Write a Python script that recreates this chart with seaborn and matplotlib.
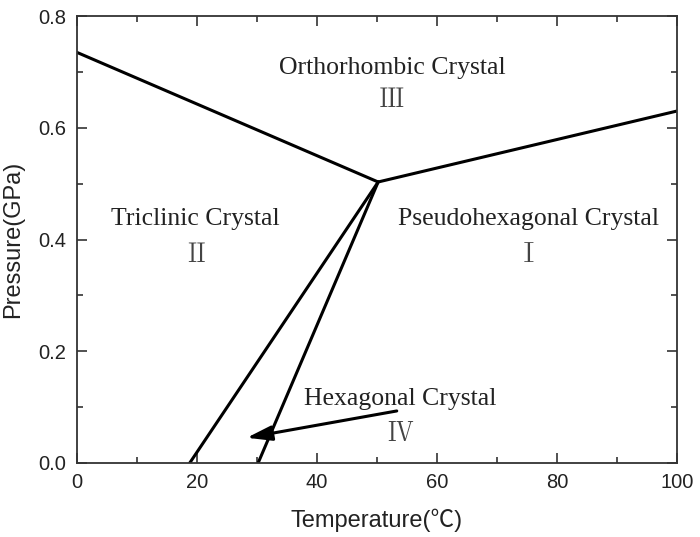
#!/usr/bin/env python3
# phase diagram: pressure vs temperature

import matplotlib
matplotlib.use('Agg')
import matplotlib.pyplot as plt
from matplotlib.ticker import MultipleLocator
import pandas as pd
import seaborn as sns

# phase boundaries (temperature in C, pressure in GPa)
boundary_names = ['II/III', 'III/I', 'II/IV', 'IV/I']
boundary_temp = [(0, 50.2), (50.2, 100), (18.8, 50.2), (30.2, 50.2)]
boundary_pres = [(0.735, 0.503), (0.503, 0.63), (0.0, 0.503), (0.0, 0.503)]

# phase labels
phase_names = ['Orthorhombic Crystal', 'Triclinic Crystal',
               'Pseudohexagonal Crystal', 'Hexagonal Crystal']
phase_numerals = ['Ⅲ', 'Ⅱ', 'Ⅰ', 'Ⅳ']
phase_temp = [52.5, 19.8, 75.2, 53.8]
phase_pres = [0.707, 0.437, 0.437, 0.115]
numeral_pres = [0.648, 0.37, 0.37, 0.05]

# arrow pointing into the hexagonal region
arrow_tail = (53.3, 0.093)
arrow_head = (28.3, 0.045)


def main():
    sns.set_style('ticks')
    plt.rcParams['font.family'] = ['Liberation Sans', 'Noto Sans CJK SC', 'DejaVu Sans']
    serif = ['Liberation Serif', 'Noto Serif CJK SC', 'Noto Sans CJK SC', 'DejaVu Serif']

    rows = []
    for name, t, p in zip(boundary_names, boundary_temp, boundary_pres):
        for ti, pi in zip(t, p):
            rows.append({'boundary': name, 'T': ti, 'P': pi})
    df = pd.DataFrame(rows)

    fig, ax = plt.subplots(figsize=(7, 5.37), dpi=100)
    fig.subplots_adjust(left=0.11, right=0.967, top=0.97, bottom=0.138)
    sns.lineplot(data=df, x='T', y='P', units='boundary', estimator=None,
                 color='black', lw=2.2, sort=False, ax=ax)

    for name, num, t, p, pn in zip(phase_names, phase_numerals, phase_temp,
                                   phase_pres, numeral_pres):
        ax.text(t, p, name, ha='center', va='center', fontsize=18.5,
                family=serif, color='#222222')
        ax.text(t, pn, num, ha='center', va='center', fontsize=18.5,
                family=serif, color='#444444')

    ax.annotate('', xy=arrow_head, xytext=arrow_tail,
                arrowprops=dict(arrowstyle='-|>,head_length=1.5,head_width=0.45',
                                color='black', lw=2.2, shrinkA=0, shrinkB=0))

    ax.set_xlim(0, 100)
    ax.set_ylim(0, 0.8)
    ax.xaxis.set_major_locator(MultipleLocator(20))
    ax.xaxis.set_minor_locator(MultipleLocator(10))
    ax.yaxis.set_major_locator(MultipleLocator(0.2))
    ax.yaxis.set_minor_locator(MultipleLocator(0.1))
    ax.yaxis.set_major_formatter(plt.FormatStrFormatter('%.1f'))
    ax.tick_params(which='both', direction='in', top=True, right=True,
                   color='#333333', labelsize=14.5, labelcolor='#222222')
    ax.tick_params(which='major', length=7, width=1.2)
    ax.tick_params(which='minor', length=4, width=1.2)
    ax.tick_params(axis='x', which='major', pad=7)
    ax.tick_params(axis='y', which='major', pad=8)
    for s in ax.spines.values():
        s.set_linewidth(1.3)
        s.set_color('#333333')
    ax.set_xlabel('Temperature(℃)', fontsize=17, color='#222222', labelpad=12)
    ax.set_ylabel('Pressure(GPa)', fontsize=17, color='#222222', labelpad=10)

    fig.savefig('out.png', dpi=100)


if __name__ == '__main__':
    main()
